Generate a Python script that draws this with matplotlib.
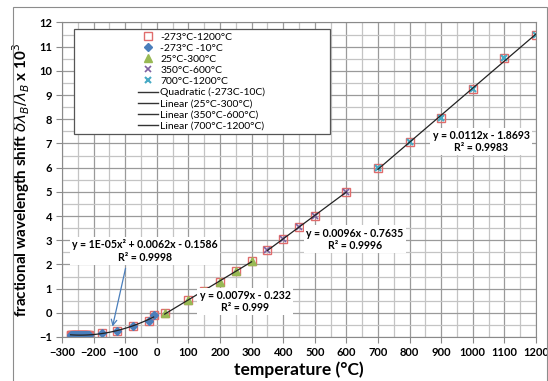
import numpy as np
import matplotlib
matplotlib.use('Agg')
import matplotlib.pyplot as plt
from matplotlib.lines import Line2D
from matplotlib.patches import Rectangle
from matplotlib.ticker import MultipleLocator

plt.rcParams['font.family'] = ['Lato', 'DejaVu Sans']

# -273C to -10C (quadratic region)
t_cryo = [-273, -270, -267, -264, -261, -258, -255, -252, -249, -246, -243, -240,
          -237, -234, -231, -228, -225, -222, -219, -216, -175, -125, -75, -25, -10]
s_cryo = [-0.92, -0.92, -0.92, -0.92, -0.92, -0.92, -0.92, -0.92, -0.92, -0.92, -0.92, -0.92,
          -0.92, -0.92, -0.92, -0.92, -0.92, -0.91, -0.91, -0.91, -0.84, -0.74, -0.55, -0.33, -0.11]
# 25C to 300C
t_low = [25, 100, 150, 200, 250, 300]
s_low = [-0.02, 0.53, 0.90, 1.28, 1.73, 2.14]
# 350C to 600C
t_mid = [350, 400, 450, 500, 600]
s_mid = [2.58, 3.06, 3.53, 4.02, 5.0]
# 700C to 1200C
t_high = [700, 800, 900, 1000, 1100, 1200]
s_high = [5.98, 7.06, 8.05, 9.27, 10.53, 11.48]

t_all = t_cryo + t_low + t_mid + t_high
s_all = s_cryo + s_low + s_mid + s_high

series_labels = ['-273°C-1200°C', '-273°C -10°C', '25°C-300°C', '350°C-600°C', '700°C-1200°C']
trend_labels = ['Quadratic (-273C-10C)', 'Linear (25°C-300°C)', 'Linear (350°C-600°C)', 'Linear (700°C-1200°C)']
fit_texts = ['y = 1E-05x² + 0.0062x - 0.1586\nR² = 0.9998',
             'y = 0.0079x - 0.232\nR² = 0.999',
             'y = 0.0096x - 0.7635\nR² = 0.9996',
             'y = 0.0112x - 1.8693\nR² = 0.9983']

fig = plt.figure(figsize=(5.48, 3.81), dpi=100)
ax = fig.add_axes([62 / 548, 0.1155, 474 / 548, 0.8255])

# outer chart border
fig.patches.append(Rectangle((13 / 548, -0.01), 1 - 14 / 548, 1.01 - 7 / 381, transform=fig.transFigure,
                             fill=False, edgecolor='#8c8c8c', linewidth=0.8))

ax.set_xlim(-300, 1200)
ax.set_ylim(-1, 12)
ax.xaxis.set_major_locator(MultipleLocator(100))
ax.xaxis.set_minor_locator(MultipleLocator(50))
ax.yaxis.set_major_locator(MultipleLocator(1))
ax.yaxis.set_minor_locator(MultipleLocator(0.5))
ax.grid(which='major', color='#9a9a9a', linewidth=0.9)
ax.grid(which='minor', color='#c4c4c4', linewidth=0.9)
ax.set_axisbelow(True)
for sp in ax.spines.values():
    sp.set_color('#8a8a8a')
ax.tick_params(which='major', length=4, color='#8a8a8a', labelsize=8, pad=3)
ax.tick_params(which='minor', length=0)
for lab in ax.get_xticklabels() + ax.get_yticklabels():
    lab.set_fontweight('bold')

ax.plot(t_all, s_all, ls='none', marker='s', ms=6, mfc='none', mec='#e06c6c', mew=1.0)
ax.plot(t_cryo, s_cryo, ls='none', marker='D', ms=4.5, color='#4a7ebb')
ax.plot(t_low, s_low, ls='none', marker='^', ms=6, color='#98b954')
ax.plot(t_mid, s_mid, ls='none', marker='x', ms=5, mew=1.2, color='#7d5fa0')
ax.plot(t_high, s_high, ls='none', marker='x', ms=5, mew=1.5, color='#46aac5')

# trend lines
for t, s, deg in [(t_cryo, s_cryo, 2), (t_low, s_low, 1), (t_mid, s_mid, 1), (t_high, s_high, 1)]:
    xx = np.linspace(t[0], t[-1], 100)
    ax.plot(xx, np.polyval(np.polyfit(t, s, deg), xx), color='#222222', lw=0.9)

box = dict(facecolor='white', edgecolor='none', pad=1.5)
kw = dict(ha='center', va='center', fontsize=7.6, fontweight='bold', bbox=box, linespacing=1.15)
ax.text(-37, 2.55, fit_texts[0], **kw)
ax.text(279, 0.46, fit_texts[1], **kw)
ax.text(627, 3.04, fit_texts[2], **kw)
ax.text(1026, 7.08, fit_texts[3], **kw)
ax.annotate('', xy=(-142, -0.68), xytext=(-97, 1.95),
            arrowprops=dict(arrowstyle='->', color='#4a7ebb', lw=0.9))

ax.set_xlabel('temperature (°C)', fontsize=12.5, fontweight='bold', labelpad=3)
ax.set_ylabel(r'fractional wavelength shift $\delta\lambda_B/\lambda_B$ x 10$^3$',
              fontsize=11, fontweight='bold', labelpad=5)

# legend
ax.add_patch(Rectangle((0.0253, 0.645), 0.540, 0.334, transform=ax.transAxes,
                       facecolor='white', edgecolor='#555555', lw=0.9, zorder=4))
handles = [
    Line2D([], [], ls='none', marker='s', ms=6, mfc='none', mec='#e06c6c', mew=1.0),
    Line2D([], [], ls='none', marker='D', ms=4.5, color='#4a7ebb'),
    Line2D([], [], ls='none', marker='^', ms=6, color='#98b954'),
    Line2D([], [], ls='none', marker='x', ms=5, mew=1.2, color='#7d5fa0'),
    Line2D([], [], ls='none', marker='x', ms=5, mew=1.5, color='#46aac5'),
] + [Line2D([], [], color='#333333', lw=1.0) for _ in trend_labels]
leg = ax.legend(handles, series_labels + trend_labels, loc='upper left',
                bbox_to_anchor=(0.155, 0.975), frameon=False, fontsize=7.5,
                handlelength=2.0, handletextpad=0.2, labelspacing=0.17,
                borderpad=0.2, borderaxespad=0)
leg.set_zorder(5)

fig.savefig('out.png', dpi=100)
